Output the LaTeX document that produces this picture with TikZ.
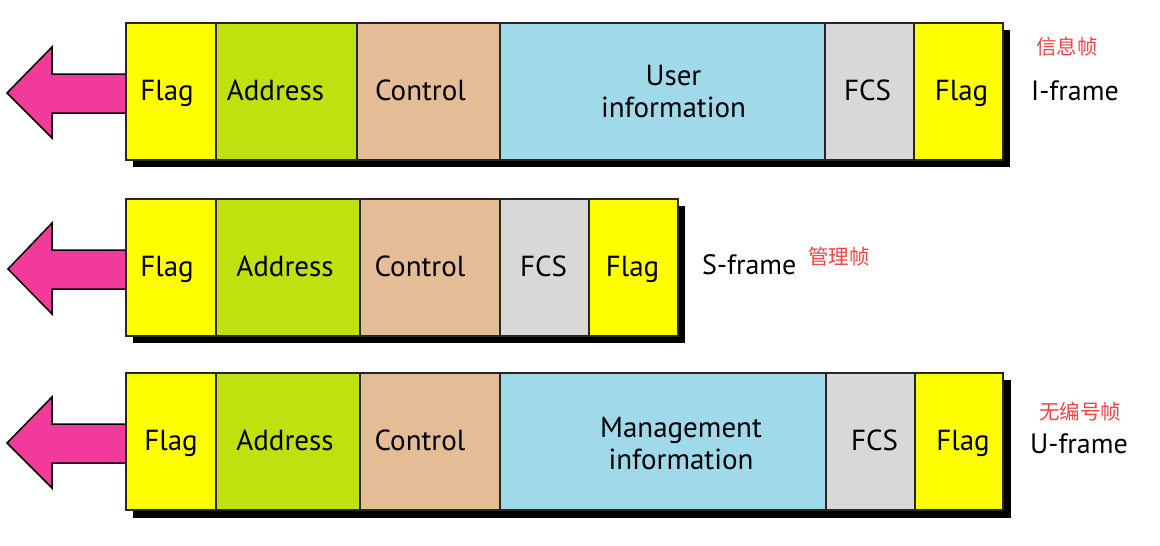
\documentclass[tikz,border=0pt]{standalone}
\usepackage{fontspec}
\setmainfont{PT Sans}
\newfontfamily\cjk{Noto Sans CJK SC}
\definecolor{flagc}{HTML}{FFFF00}
\definecolor{addrc}{HTML}{C0E010}
\definecolor{ctrlc}{HTML}{E4BC96}
\definecolor{infoc}{HTML}{A0DAEA}
\definecolor{fcsc}{HTML}{D8D8D8}
\definecolor{arrowc}{HTML}{F23A9A}
\definecolor{redc}{HTML}{F04444}
% name, x1, x2, ytop, colour, text, text shift options
\newcommand{\fcell}[7]{%
  \node[cell, fill=#5, minimum width=#3pt-#2pt, anchor=north west,
    label={[celltext, #7]center:\vphantom{Flag}#6}] (#1) at (#2,#4) {};}
\newcommand{\farrow}[2]{%
  \draw[arrowstyle] (#2,#1+70) coordinate (#2tip) -- (52,#1+24) -- (52,#1+51) -- (130,#1+51)
    -- (130,#1+90) -- (52,#1+90) -- (52,#1+115) -- cycle;}
\begin{document}
\begin{tikzpicture}[x=1pt,y=-1pt,
  cell/.style={draw=black!85, line width=1.5pt, inner sep=0pt, outer sep=0pt,
    minimum height=137pt},
  celltext/.style={align=center, inner sep=0pt, yshift=-2pt, font=\fontsize{29}{32}\selectfont},
  arrowstyle/.style={draw=black, line width=1.5pt, fill=arrowc, line join=miter},
  shadowbox/.style={fill=black},
  framelbl/.style={anchor=west, font=\fontsize{28}{32}\selectfont, inner sep=0pt},
  cnlbl/.style={anchor=west, text=redc, font=\cjk\fontsize{20.5}{24}\selectfont, inner sep=0pt}]
\useasboundingbox (0,0) rectangle (1160,546);
% ---------- I-frame ----------
\fill[shadowbox] (133,30) rectangle (1010,167);
\farrow{23}{7}
\fcell{i1}{126}{216}{23}{flagc}{Flag}{xshift=-4pt}
\fcell{i2}{216}{357}{23}{addrc}{Address}{xshift=-11pt}
\fcell{i3}{357}{500}{23}{ctrlc}{Control}{xshift=-8pt}
\fcell{i4}{500}{825}{23}{infoc}{User\\information}{xshift=11pt, yshift=1.5pt}
\fcell{i5}{825}{914}{23}{fcsc}{FCS}{xshift=-2pt}
\fcell{i6}{914}{1003}{23}{flagc}{Flag}{xshift=3pt}
\node[framelbl] (il) at (1031,91) {I-frame};
\node[cnlbl] (ic) at (1036,47) {信息帧};
% ---------- S-frame ----------
\fill[shadowbox] (133,206) rectangle (685,343);
\farrow{199}{8}
\fcell{s1}{126}{216}{199}{flagc}{Flag}{xshift=-4pt}
\fcell{s2}{216}{360}{199}{addrc}{Address}{xshift=-3pt}
\fcell{s3}{360}{500}{199}{ctrlc}{Control}{xshift=-10pt}
\fcell{s4}{500}{589}{199}{fcsc}{FCS}{xshift=-1pt}
\fcell{s5}{589}{678}{199}{flagc}{Flag}{xshift=-1pt}
\node[framelbl] (sl) at (702,265) {S-frame};
\node[cnlbl] (sc) at (808,257) {管理帧};
% ---------- U-frame ----------
\fill[shadowbox] (133,380) rectangle (1011,518);
\farrow{373}{7}
\fcell{u1}{126}{216}{373}{flagc}{Flag}{xshift=0pt}
\fcell{u2}{216}{360}{373}{addrc}{Address}{xshift=-3pt}
\fcell{u3}{360}{500}{373}{ctrlc}{Control}{xshift=-10pt}
\fcell{u4}{500}{826}{373}{infoc}{Management\\information}{xshift=18pt, yshift=0pt}
\fcell{u5}{826}{915}{373}{fcsc}{FCS}{xshift=4pt}
\fcell{u6}{915}{1003}{373}{flagc}{Flag}{xshift=4pt}
\node[framelbl] (ul) at (1030,444) {U-frame};
\node[cnlbl] (uc) at (1039,412) {无编号帧};
\end{tikzpicture}
\end{document}
